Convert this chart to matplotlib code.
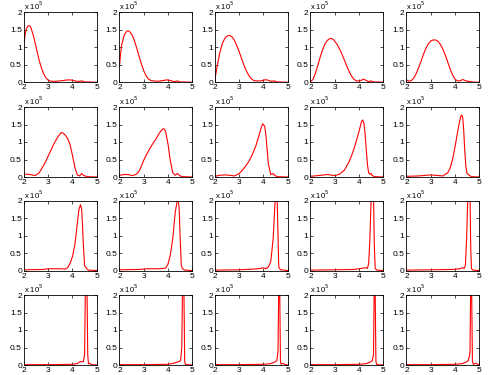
import matplotlib
matplotlib.use("Agg")
import matplotlib.pyplot as plt

# values in units of 1e5
x01 = [2.0,2.05,2.1,2.15,2.2,2.25,2.3,2.4,2.5,2.6,2.7,2.8,2.9,3.0,3.1,3.3,3.5,3.7,3.85,4.0,4.15,4.3,4.4,4.5,4.7,5.0]
y01 = [1.12,1.38,1.53,1.6,1.62,1.6,1.53,1.3,1.0,0.7,0.45,0.26,0.13,0.06,0.03,0.03,0.04,0.06,0.07,0.06,0.03,0.03,0.04,0.01,0.01,0.0]
x02 = [2.0,2.05,2.1,2.2,2.3,2.35,2.4,2.5,2.6,2.7,2.8,2.9,3.0,3.1,3.2,3.3,3.4,3.6,3.8,3.95,4.1,4.25,4.4,4.5,4.7,5.0]
y02 = [0.47,0.85,1.1,1.36,1.46,1.47,1.46,1.38,1.22,1.0,0.76,0.53,0.33,0.18,0.09,0.05,0.04,0.03,0.05,0.07,0.05,0.02,0.04,0.01,0.01,0.0]
x03 = [2.0,2.05,2.1,2.2,2.3,2.4,2.5,2.6,2.7,2.8,2.9,3.0,3.1,3.2,3.3,3.4,3.5,3.6,3.7,3.9,4.05,4.15,4.3,4.45,4.55,4.7,5.0]
y03 = [0.1,0.3,0.5,0.85,1.1,1.25,1.32,1.34,1.3,1.2,1.05,0.87,0.67,0.48,0.32,0.19,0.1,0.05,0.04,0.04,0.07,0.07,0.03,0.04,0.01,0.01,0.0]
x04 = [2.0,2.1,2.2,2.3,2.4,2.5,2.6,2.7,2.8,2.87,2.95,3.1,3.2,3.3,3.4,3.5,3.6,3.7,3.8,3.9,4.0,4.1,4.2,4.3,4.4,4.5,4.6,4.8,5.0]
y04 = [0.02,0.08,0.25,0.48,0.72,0.93,1.1,1.2,1.25,1.25,1.22,1.08,0.95,0.8,0.63,0.46,0.3,0.17,0.08,0.04,0.04,0.06,0.09,0.05,0.02,0.04,0.01,0.01,0.0]
x05 = [2.0,2.05,2.1,2.2,2.3,2.4,2.5,2.6,2.7,2.8,2.9,3.0,3.1,3.2,3.3,3.4,3.5,3.6,3.7,3.8,3.9,4.0,4.1,4.2,4.32,4.45,4.55,4.7,5.0]
y05 = [0.07,0.05,0.03,0.05,0.12,0.25,0.42,0.6,0.8,0.97,1.1,1.18,1.21,1.21,1.17,1.08,0.95,0.78,0.58,0.38,0.21,0.09,0.04,0.04,0.08,0.04,0.03,0.01,0.0]
x06 = [2.0,2.1,2.25,2.45,2.6,2.7,2.8,2.9,3.0,3.1,3.2,3.3,3.4,3.5,3.55,3.6,3.7,3.8,3.9,4.0,4.1,4.2,4.3,4.38,4.45,4.6,5.0]
y06 = [0.08,0.08,0.07,0.04,0.1,0.2,0.32,0.45,0.6,0.75,0.9,1.03,1.15,1.24,1.27,1.26,1.2,1.1,0.93,0.62,0.27,0.06,0.03,0.1,0.05,0.01,0.0]
x07 = [2.0,2.2,2.35,2.55,2.7,2.8,2.9,3.0,3.1,3.2,3.3,3.4,3.5,3.6,3.7,3.8,3.85,3.9,4.0,4.1,4.2,4.3,4.4,4.5,4.6,5.0]
y07 = [0.05,0.07,0.07,0.04,0.08,0.16,0.3,0.48,0.62,0.75,0.87,0.98,1.08,1.2,1.31,1.38,1.37,1.3,0.95,0.45,0.12,0.05,0.1,0.03,0.01,0.0]
x08 = [2.0,2.2,2.4,2.6,2.8,3.0,3.2,3.4,3.5,3.6,3.7,3.8,3.9,3.97,4.05,4.1,4.15,4.2,4.3,4.4,4.45,4.55,5.0]
y08 = [0.02,0.05,0.06,0.05,0.03,0.1,0.25,0.45,0.58,0.74,0.92,1.15,1.4,1.52,1.45,1.2,0.8,0.38,0.07,0.1,0.06,0.01,0.0]
x09 = [2.0,2.3,2.7,3.0,3.2,3.4,3.5,3.6,3.7,3.8,3.9,4.0,4.1,4.15,4.2,4.25,4.3,4.35,4.4,4.45,4.5,4.55,4.65,5.0]
y09 = [0.02,0.04,0.07,0.04,0.08,0.2,0.32,0.45,0.62,0.82,1.05,1.3,1.57,1.63,1.55,1.25,0.8,0.35,0.12,0.08,0.1,0.04,0.01,0.0]
x10 = [2.0,2.5,3.0,3.5,3.7,3.8,3.9,4.0,4.1,4.2,4.25,4.28,4.32,4.36,4.4,4.45,4.5,4.55,4.6,4.7,5.0]
y10 = [0.02,0.03,0.06,0.03,0.12,0.25,0.5,0.85,1.25,1.62,1.75,1.77,1.7,1.35,0.8,0.3,0.09,0.08,0.04,0.01,0.0]
x11 = [2.0,2.8,3.0,3.5,3.7,3.8,3.9,4.0,4.1,4.2,4.27,4.33,4.38,4.42,4.45,4.5,4.55,4.6,4.65,5.0]
y11 = [0.02,0.03,0.05,0.05,0.04,0.08,0.2,0.4,0.74,1.35,1.75,1.88,1.75,1.2,0.74,0.14,0.09,0.05,0.01,0.0]
x12 = [2.0,2.8,3.2,3.7,3.9,4.0,4.1,4.2,4.3,4.38,4.42,4.46,4.5,4.55,4.6,4.7,5.0]
y12 = [0.02,0.03,0.05,0.05,0.07,0.18,0.45,0.93,1.67,1.98,2.0,1.8,1.0,0.14,0.05,0.01,0.0]
x13 = [2.0,3.0,3.6,3.9,4.0,4.1,4.2,4.3,4.4,4.45,4.5,4.53,4.56,4.6,4.63,4.7,5.0]
y13 = [0.01,0.02,0.04,0.06,0.08,0.05,0.1,0.25,0.9,1.6,2.2,2.4,2.2,1.0,0.1,0.02,0.0]
x14 = [2.0,3.0,3.8,4.2,4.3,4.35,4.4,4.45,4.5,4.55,4.6,4.63,4.67,4.75,5.0]
y14 = [0.01,0.02,0.03,0.07,0.08,0.06,0.2,0.9,2.0,2.5,2.2,0.8,0.05,0.01,0.0]
x15 = [2.0,3.0,3.9,4.2,4.3,4.38,4.43,4.48,4.53,4.58,4.62,4.65,4.68,4.75,5.0]
y15 = [0.01,0.02,0.03,0.05,0.08,0.06,0.15,0.9,2.1,2.6,2.2,0.7,0.05,0.01,0.0]
x16 = [2.0,3.0,4.0,4.2,4.3,4.45,4.5,4.53,4.57,4.6,4.63,4.66,4.7,4.8,5.0]
y16 = [0.01,0.01,0.02,0.04,0.09,0.1,0.3,2.0,2.8,2.2,0.3,0.03,0.05,0.01,0.0]
x17 = [2.0,3.0,4.0,4.3,4.45,4.52,4.57,4.6,4.63,4.66,4.69,4.72,4.8,5.0]
y17 = [0.01,0.01,0.02,0.06,0.1,0.12,0.5,2.2,3.0,2.0,0.1,0.02,0.01,0.0]
x18 = [2.0,3.0,4.0,4.3,4.45,4.55,4.6,4.63,4.65,4.67,4.7,4.73,4.8,4.9,5.0]
y18 = [0.01,0.01,0.02,0.04,0.08,0.12,0.4,2.2,3.2,2.2,0.1,0.02,0.05,0.01,0.0]
x19 = [2.0,3.0,4.0,4.3,4.45,4.55,4.6,4.63,4.65,4.67,4.7,4.73,4.8,5.0]
y19 = [0.01,0.01,0.02,0.04,0.08,0.12,0.3,2.3,3.3,2.0,0.1,0.02,0.01,0.0]
x20 = [2.0,3.0,4.0,4.3,4.45,4.55,4.62,4.65,4.67,4.69,4.72,4.76,4.85,5.0]
y20 = [0.01,0.01,0.02,0.04,0.08,0.12,0.35,2.4,3.4,2.0,0.1,0.02,0.05,0.0]

xs = [x01,x02,x03,x04,x05,x06,x07,x08,x09,x10,x11,x12,x13,x14,x15,x16,x17,x18,x19,x20]
ys = [y01,y02,y03,y04,y05,y06,y07,y08,y09,y10,y11,y12,y13,y14,y15,y16,y17,y18,y19,y20]

x_ticks = [2, 3, 4, 5]
y_ticks = [0, 0.5, 1, 1.5, 2]
y_ticklabels = ['0', '0.5', '1', '1.5', '2']
scale_label = r'x 10$^5$'

W, H = 489, 375
plt.rcParams['font.family'] = ['Liberation Sans', 'DejaVu Sans']
fig = plt.figure(figsize=(W/100, H/100), dpi=100)

col_left = [24, 119.5, 215, 310.5, 406.5]
row_top = [12.3, 107, 200.5, 295]
aw, ah = 72.7, 70

for i in range(20):
    r, c = divmod(i, 5)
    ax = fig.add_axes([col_left[c]/W, 1 - (row_top[r] + ah)/H, aw/W, ah/H])
    ax.plot(xs[i], ys[i], color='red', lw=0.8)
    ax.set_xlim(2, 5)
    ax.set_ylim(0, 2)
    ax.set_xticks(x_ticks)
    ax.set_yticks(y_ticks)
    ax.set_yticklabels(y_ticklabels)
    ax.tick_params(direction='in', length=2, width=0.5, labelsize=6, pad=1.5,
                   top=True, right=True)
    for s in ax.spines.values():
        s.set_linewidth(0.6)
        s.set_color('black')
    ax.text(0.0, 1.0, scale_label, transform=ax.transAxes, fontsize=5.5,
            ha='left', va='bottom')

fig.savefig('out.png', dpi=100)
